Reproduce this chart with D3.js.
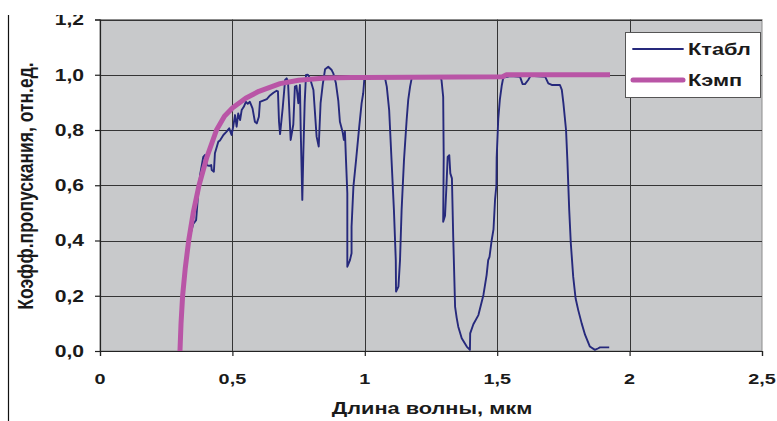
<!DOCTYPE html>
<html><head><meta charset="utf-8">
<script src="https://cdn.jsdelivr.net/npm/d3@7"></script>
<style>body{margin:0;background:#fff}svg{display:block}text{font-family:"Liberation Sans",Arial,sans-serif;font-weight:bold;fill:#1a1a1a}</style>
</head><body><svg id="c" width="777" height="421"></svg>
<script>
const xTicks = [0, 0.5, 1, 1.5, 2, 2.5];
const yTicks = [0, 0.2, 0.4, 0.6, 0.8, 1.0, 1.2];
const seriesNames = ["Ктабл", "Кэмп"];
const xTitle = "Длина волны, мкм";
const yTitle = "Коэфф.пропускания, отн.ед.";

const kTabl = [[0.302,0.0],[0.312,0.2],[0.322,0.3],[0.335,0.4],[0.352,0.46],[0.363,0.474],[0.37,0.56],[0.378,0.637],[0.39,0.703],[0.397,0.71],[0.403,0.673],[0.412,0.67],[0.42,0.673],[0.422,0.655],[0.43,0.649],[0.434,0.716],[0.447,0.758],[0.453,0.762],[0.466,0.782],[0.478,0.794],[0.488,0.806],[0.497,0.782],[0.503,0.812],[0.51,0.854],[0.516,0.812],[0.522,0.86],[0.529,0.836],[0.535,0.872],[0.543,0.884],[0.551,0.902],[0.558,0.895],[0.566,0.902],[0.576,0.878],[0.585,0.83],[0.592,0.824],[0.6,0.848],[0.604,0.902],[0.63,0.912],[0.642,0.925],[0.655,0.935],[0.667,0.942],[0.672,0.94],[0.676,0.83],[0.68,0.785],[0.69,0.88],[0.699,0.981],[0.705,0.987],[0.71,0.975],[0.72,0.764],[0.73,0.82],[0.736,0.957],[0.742,0.96],[0.749,0.897],[0.755,0.963],[0.758,0.8],[0.764,0.547],[0.768,0.72],[0.773,0.9],[0.778,0.999],[0.785,1.0],[0.793,0.987],[0.806,0.945],[0.818,0.776],[0.826,0.74],[0.833,0.897],[0.841,0.963],[0.85,1.02],[0.862,1.029],[0.875,1.017],[0.881,1.005],[0.891,0.969],[0.9,0.905],[0.906,0.83],[0.916,0.794],[0.921,0.764],[0.925,0.794],[0.929,0.691],[0.934,0.571],[0.934,0.305],[0.944,0.329],[0.95,0.354],[0.95,0.45],[0.957,0.595],[0.967,0.691],[0.979,0.812],[0.988,0.897],[0.994,0.933],[0.998,0.981],[1.005,0.99],[1.04,0.99],[1.076,0.99],[1.083,0.957],[1.092,0.872],[1.101,0.691],[1.11,0.51],[1.117,0.329],[1.118,0.215],[1.127,0.233],[1.133,0.329],[1.139,0.51],[1.148,0.691],[1.158,0.836],[1.164,0.909],[1.171,0.957],[1.177,0.987],[1.19,0.99],[1.24,0.99],[1.287,0.99],[1.29,0.978],[1.296,0.92],[1.298,0.703],[1.296,0.468],[1.303,0.49],[1.308,0.59],[1.313,0.703],[1.319,0.709],[1.323,0.643],[1.329,0.625],[1.334,0.41],[1.341,0.16],[1.347,0.12],[1.353,0.088],[1.366,0.046],[1.385,0.016],[1.397,0.004],[1.398,0.064],[1.41,0.097],[1.429,0.13],[1.448,0.203],[1.46,0.275],[1.466,0.329],[1.471,0.341],[1.479,0.4],[1.486,0.44],[1.492,0.55],[1.497,0.6],[1.498,0.7],[1.504,0.84],[1.51,0.91],[1.517,0.96],[1.523,0.99],[1.55,0.995],[1.586,0.993],[1.596,0.966],[1.605,0.966],[1.617,0.981],[1.626,0.996],[1.681,0.993],[1.693,0.969],[1.706,0.963],[1.737,0.963],[1.744,0.945],[1.75,0.897],[1.76,0.8],[1.765,0.691],[1.772,0.51],[1.778,0.39],[1.787,0.269],[1.796,0.191],[1.806,0.148],[1.819,0.1],[1.832,0.058],[1.85,0.016],[1.869,0.004],[1.882,0.01],[1.888,0.013],[1.923,0.013]];

const kEmp = [[0.302,0],[0.306,0.1],[0.312,0.2],[0.322,0.3],[0.335,0.4],[0.352,0.5],[0.374,0.6],[0.403,0.7],[0.44,0.8],[0.47,0.85],[0.50,0.88],[0.55,0.915],[0.6,0.94],[0.68,0.968],[0.75,0.98],[0.85,0.988],[0.95,0.99],[1.0,0.99],[1.52,0.993],[1.535,1.0],[1.926,1.0]];

const W = 777, H = 421;
const L = 100, R = 762, T = 19.5, B = 351;
const SX = 1.28;
const svg = d3.select("#c");
const x = d3.scaleLinear().domain([0, 2.5]).range([L, R]);
const y = d3.scaleLinear().domain([0, 1.2]).range([B, T]);
const fmt = v => (v === 0 ? "0" : String(v)).replace(".", ",");
const fmtY = v => d3.format(".1f")(v).replace(".", ",");

svg.append("rect").attr("x", L).attr("y", T).attr("width", R - L).attr("height", B - T)
  .attr("fill", "#c8c9cb").attr("stroke", "#8c8c8c").attr("stroke-width", 1);

const g = svg.append("g");
g.selectAll(".hy").data(yTicks.slice(1)).join("line")
  .attr("x1", L).attr("x2", R).attr("y1", d => Math.round(y(d)) + 0.5).attr("y2", d => Math.round(y(d)) + 0.5)
  .attr("stroke", "#353535").attr("stroke-width", 1);
g.selectAll(".vx").data(xTicks.slice(1, -1)).join("line")
  .attr("y1", T).attr("y2", B).attr("x1", d => Math.round(x(d)) + 0.5).attr("x2", d => Math.round(x(d)) + 0.5)
  .attr("stroke", "#353535").attr("stroke-width", 1);

const ax = svg.append("g").attr("transform", `translate(0,${B})`)
  .call(d3.axisBottom(x).tickValues(xTicks).tickSize(5).tickFormat(""));
const ay = svg.append("g").attr("transform", `translate(${L},0)`)
  .call(d3.axisLeft(y).tickValues(yTicks).tickSize(5).tickFormat(""));
[ax, ay].forEach(a => { a.selectAll("path,line").attr("stroke", "#222").attr("stroke-width", 1.2); });

svg.append("g").selectAll("text").data(xTicks).join("text")
  .attr("transform", d => `translate(${x(d)},384) scale(${SX},1)`)
  .attr("text-anchor", "middle").attr("font-size", 15.5).text(fmt);
svg.append("g").selectAll("text").data(yTicks).join("text")
  .attr("transform", d => `translate(84,${y(d)}) scale(${SX},1)`)
  .attr("dy", "0.36em").attr("text-anchor", "end").attr("font-size", 16.5).text(fmtY);

svg.append("text").attr("transform", `translate(432,414) scale(${SX},1)`)
  .attr("text-anchor", "middle").attr("font-size", 17).text(xTitle);
svg.append("text").attr("transform", `translate(33,186) rotate(-90) scale(1,${SX})`)
  .attr("text-anchor", "middle").attr("font-size", 17.5).text(yTitle);

const line = d3.line().x(d => x(d[0])).y(d => y(d[1]));
svg.append("path").datum(kTabl).attr("d", line).attr("fill", "none")
  .attr("stroke", "#26297c").attr("stroke-width", 1.9).attr("stroke-linejoin", "round");
svg.append("path").datum(kEmp).attr("d", line).attr("fill", "none")
  .attr("stroke", "#b955a6").attr("stroke-width", 5).attr("stroke-linejoin", "round");

const lg = svg.append("g");
lg.append("rect").attr("x", 625.5).attr("y", 32.5).attr("width", 135).attr("height", 65)
  .attr("fill", "#fff").attr("stroke", "#555").attr("stroke-width", 1);
const legItems = [{name: seriesNames[0], color: "#26297c", w: 1.8, yy: 49, by: 55},
                  {name: seriesNames[1], color: "#b955a6", w: 5, yy: 80, by: 86}];
legItems.forEach(it => {
  lg.append("line").attr("x1", 633).attr("x2", 683).attr("y1", it.yy).attr("y2", it.yy)
    .attr("stroke", it.color).attr("stroke-width", it.w).attr("stroke-linecap", "round");
  lg.append("text").attr("transform", `translate(688,${it.by}) scale(${SX},1)`)
    .attr("font-size", 17).text(it.name);
});

svg.append("line").attr("x1", 8.5).attr("x2", 8.5).attr("y1", 15).attr("y2", H).attr("stroke", "#111").attr("stroke-width", 1.2);
svg.append("rect").attr("x", 0).attr("y", 0).attr("width", W).attr("height", 15).attr("fill", "#fff");
</script></body></html>
